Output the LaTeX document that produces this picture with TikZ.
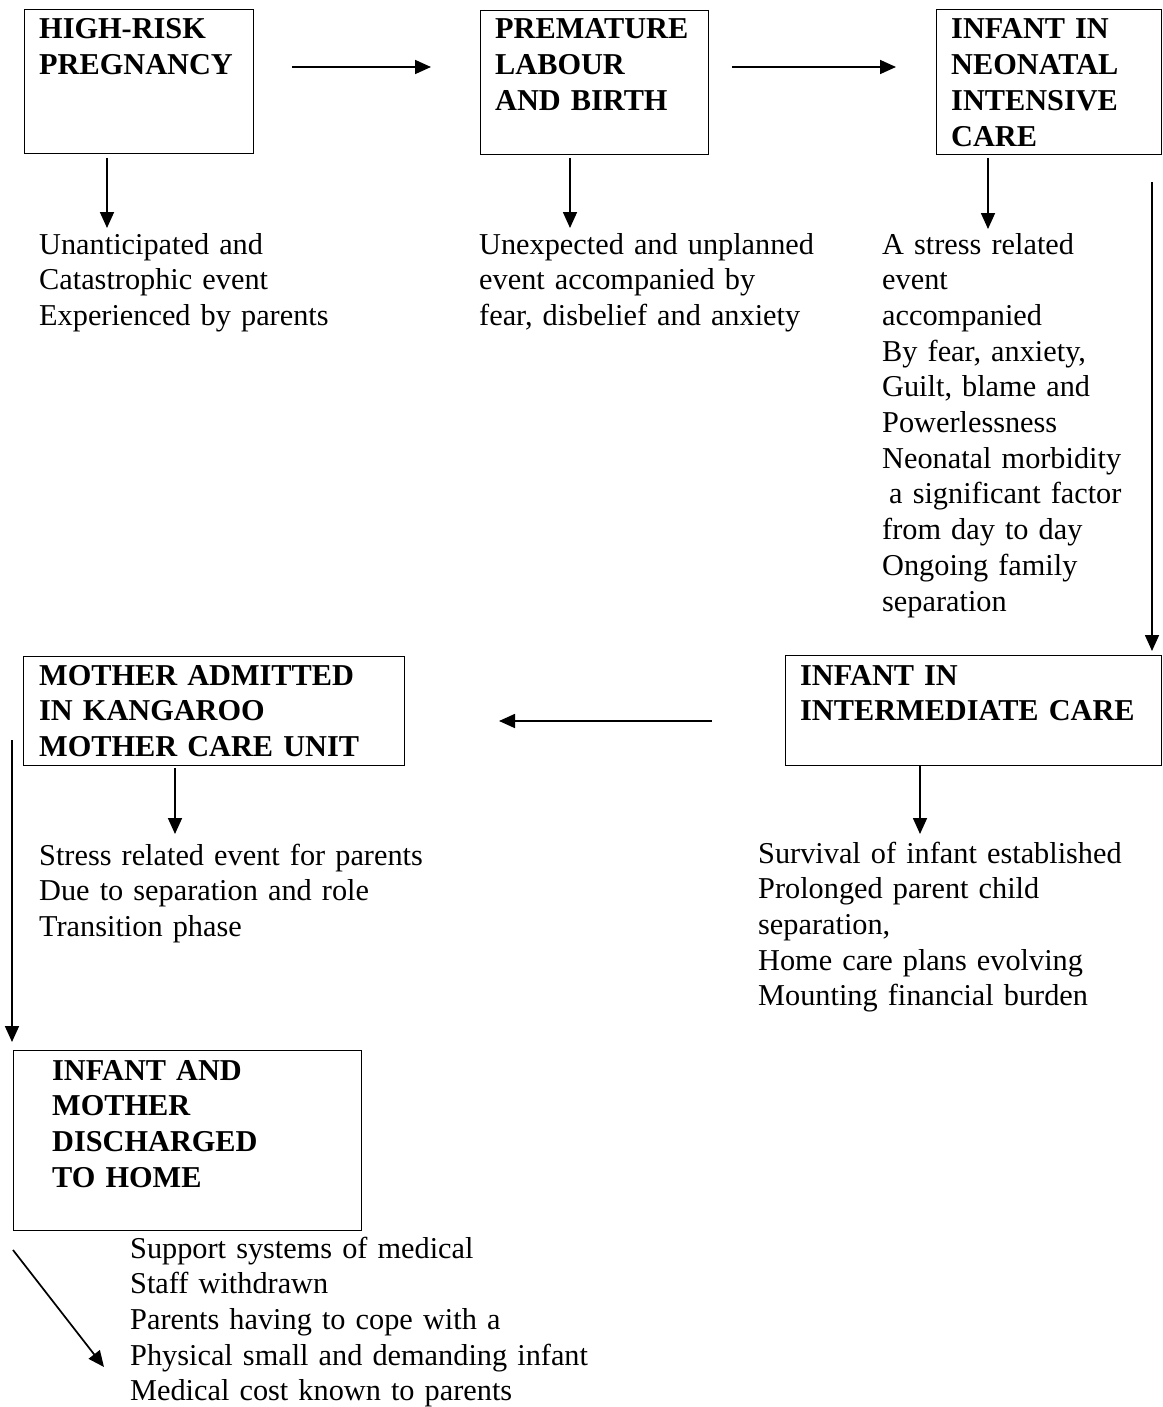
\documentclass[tikz,border=0pt]{standalone}
\usepackage{fontspec}
\setmainfont{Liberation Serif}
\usetikzlibrary{arrows.meta}
\begin{document}
\begin{tikzpicture}[x=1pt,y=-1pt,
  boxe/.style={draw, line width=1.3pt, inner sep=0pt, anchor=north west},
  ttl/.style={anchor=base west, inner sep=0pt, text width=420pt, align=left,
     font=\fontsize{30.3}{35.7}\selectfont\bfseries},
  body/.style={anchor=base west, inner sep=0pt, text width=480pt, align=left,
     font=\fontsize{30.3}{35.7}\selectfont},
  arr/.style={line width=1.7pt, -{Triangle[length=16pt,width=14pt]}}]
\useasboundingbox (0,0) rectangle (1162,1407);
% boxes
\node[boxe, minimum width=229pt, minimum height=144pt] (b1) at (24,9) {};
\node[boxe, minimum width=228pt, minimum height=144pt] (b2) at (480,10) {};
\node[boxe, minimum width=225pt, minimum height=145pt] (b3) at (936,9) {};
\node[boxe, minimum width=376pt, minimum height=110pt] (ic) at (785,655) {};
\node[boxe, minimum width=381pt, minimum height=109pt] (kmc) at (23,656) {};
\node[boxe, minimum width=348pt, minimum height=180pt] (home) at (13,1050) {};
% titles
\node[ttl] (t1) at (39,39) {HIGH-RISK\\PREGNANCY};
\node[ttl] (t2) at (495,39) {PREMATURE\\LABOUR\\AND BIRTH};
\node[ttl] (t3) at (951,39) {INFANT IN\\NEONATAL\\INTENSIVE\\CARE};
\node[ttl] (t4) at (800,685) {INFANT IN\\INTERMEDIATE CARE};
\node[ttl] (t5) at (39,685) {MOTHER ADMITTED\\IN KANGAROO\\MOTHER CARE UNIT};
\node[ttl] (t6) at (52,1080) {INFANT AND\\MOTHER\\DISCHARGED\\TO HOME};
% bodies
\node[body] (d1) at (39,254) {Unanticipated and\\Catastrophic event\\Experienced by parents};
\node[body] (d2) at (479,254) {Unexpected and unplanned\\event accompanied by\\fear, disbelief and anxiety};
\node[body] (d3) at (882,254) {A stress related\\event\\accompanied\\By fear, anxiety,\\Guilt, blame and\\Powerlessness\\Neonatal morbidity\\\hspace*{7pt}a significant factor\\from day to day\\Ongoing family\\separation};
\node[body] (d4) at (758,863) {Survival of infant established\\Prolonged parent child\\separation,\\Home care plans evolving\\Mounting financial burden};
\node[body] (d5) at (39,865) {Stress related event for parents\\Due to separation and role\\Transition phase};
\node[body] (d6) at (130,1258) {Support systems of medical\\Staff withdrawn\\Parents having to cope with a\\Physical small and demanding infant\\Medical cost known to parents};
% connector end points
\coordinate (a1s) at (292,67);  \coordinate (a1e) at (431,67);
\coordinate (a2s) at (732,67);  \coordinate (a2e) at (896,67);
\coordinate (a3s) at (107,158); \coordinate (a3e) at (107,228);
\coordinate (a4s) at (570,158); \coordinate (a4e) at (570,228);
\coordinate (a5s) at (988,158); \coordinate (a5e) at (988,229);
\coordinate (a6s) at (1152,182); \coordinate (a6e) at (1152,651);
\coordinate (a7s) at (712,721); \coordinate (a7e) at (499,721);
\coordinate (a8s) at (920,766); \coordinate (a8e) at (920,834);
\coordinate (a9s) at (175,768); \coordinate (a9e) at (175,834);
\coordinate (a10s) at (12,740); \coordinate (a10e) at (12,1042);
\coordinate (a11s) at (13,1250); \coordinate (a11e) at (104,1367);
% connectors
\draw[arr] (a1s) -- (a1e);
\draw[arr] (a2s) -- (a2e);
\draw[arr] (a3s) -- (a3e);
\draw[arr] (a4s) -- (a4e);
\draw[arr] (a5s) -- (a5e);
\draw[arr] (a6s) -- (a6e);
\draw[arr] (a7s) -- (a7e);
\draw[arr] (a8s) -- (a8e);
\draw[arr] (a9s) -- (a9e);
\draw[arr] (a10s) -- (a10e);
\draw[arr] (a11s) -- (a11e);
\end{tikzpicture}
\end{document}
